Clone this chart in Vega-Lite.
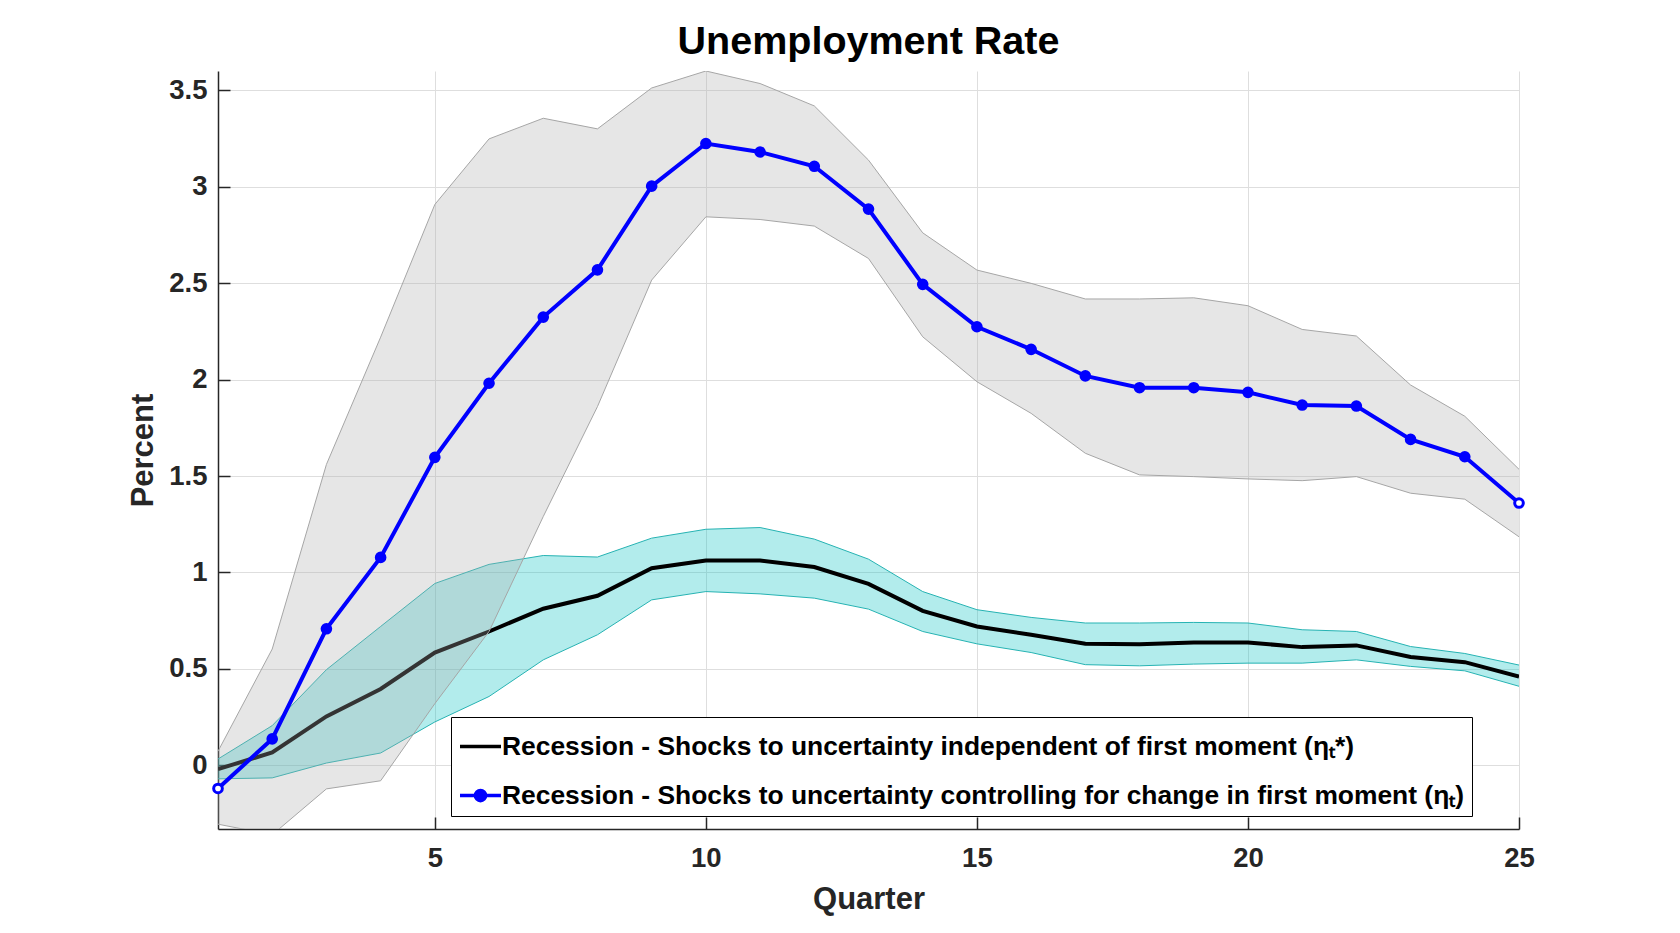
{
  "$schema": "https://vega.github.io/schema/vega-lite/v6.json",
  "width": 1301,
  "height": 758,
  "autosize": {"type": "none"},
  "padding": {"left": 218, "top": 71, "right": 161, "bottom": 104},
  "background": "white",
  "title": {
    "text": "Unemployment Rate",
    "font": "Liberation Sans",
    "fontSize": 39.5,
    "fontWeight": "bold",
    "color": "#000000",
    "anchor": "middle",
    "baseline": "alphabetic",
    "offset": 16,
    "dy": 38
  },
  "data": {
    "values": [
      {"q": 1, "blue": -0.12, "blue_lo": -0.305, "blue_hi": 0.073, "black": -0.02, "black_lo": -0.07, "black_hi": 0.033},
      {"q": 2, "blue": 0.137, "blue_lo": -0.36, "blue_hi": 0.603, "black": 0.067, "black_lo": -0.065, "black_hi": 0.206},
      {"q": 3, "blue": 0.708, "blue_lo": -0.122, "blue_hi": 1.56, "black": 0.254, "black_lo": 0.012, "black_hi": 0.496},
      {"q": 4, "blue": 1.078, "blue_lo": -0.08, "blue_hi": 2.22, "black": 0.396, "black_lo": 0.064, "black_hi": 0.72},
      {"q": 5, "blue": 1.597, "blue_lo": 0.32, "blue_hi": 2.908, "black": 0.585, "black_lo": 0.225, "black_hi": 0.943},
      {"q": 6, "blue": 1.981, "blue_lo": 0.694, "blue_hi": 3.248, "black": 0.694, "black_lo": 0.357, "black_hi": 1.042},
      {"q": 7, "blue": 2.324, "blue_lo": 1.29, "blue_hi": 3.355, "black": 0.812, "black_lo": 0.547, "black_hi": 1.088},
      {"q": 8, "blue": 2.569, "blue_lo": 1.86, "blue_hi": 3.30, "black": 0.879, "black_lo": 0.677, "black_hi": 1.08},
      {"q": 9, "blue": 3.003, "blue_lo": 2.516, "blue_hi": 3.512, "black": 1.022, "black_lo": 0.858, "black_hi": 1.178},
      {"q": 10, "blue": 3.224, "blue_lo": 2.844, "blue_hi": 3.60, "black": 1.062, "black_lo": 0.901, "black_hi": 1.224},
      {"q": 11, "blue": 3.18, "blue_lo": 2.83, "blue_hi": 3.535, "black": 1.062, "black_lo": 0.889, "black_hi": 1.233},
      {"q": 12, "blue": 3.106, "blue_lo": 2.796, "blue_hi": 3.419, "black": 1.028, "black_lo": 0.867, "black_hi": 1.173},
      {"q": 13, "blue": 2.884, "blue_lo": 2.628, "blue_hi": 3.138, "black": 0.941, "black_lo": 0.81, "black_hi": 1.069},
      {"q": 14, "blue": 2.494, "blue_lo": 2.222, "blue_hi": 2.761, "black": 0.801, "black_lo": 0.694, "black_hi": 0.901},
      {"q": 15, "blue": 2.274, "blue_lo": 1.989, "blue_hi": 2.568, "black": 0.72, "black_lo": 0.63, "black_hi": 0.807},
      {"q": 16, "blue": 2.157, "blue_lo": 1.825, "blue_hi": 2.499, "black": 0.677, "black_lo": 0.585, "black_hi": 0.767},
      {"q": 17, "blue": 2.019, "blue_lo": 1.618, "blue_hi": 2.418, "black": 0.63, "black_lo": 0.522, "black_hi": 0.738},
      {"q": 18, "blue": 1.958, "blue_lo": 1.506, "blue_hi": 2.418, "black": 0.628, "black_lo": 0.516, "black_hi": 0.738},
      {"q": 19, "blue": 1.958, "blue_lo": 1.497, "blue_hi": 2.424, "black": 0.637, "black_lo": 0.525, "black_hi": 0.741},
      {"q": 20, "blue": 1.934, "blue_lo": 1.485, "blue_hi": 2.383, "black": 0.637, "black_lo": 0.53, "black_hi": 0.738},
      {"q": 21, "blue": 1.868, "blue_lo": 1.476, "blue_hi": 2.26, "black": 0.613, "black_lo": 0.53, "black_hi": 0.703},
      {"q": 22, "blue": 1.863, "blue_lo": 1.497, "blue_hi": 2.226, "black": 0.622, "black_lo": 0.547, "black_hi": 0.694},
      {"q": 23, "blue": 1.69, "blue_lo": 1.411, "blue_hi": 1.972, "black": 0.562, "black_lo": 0.513, "black_hi": 0.616},
      {"q": 24, "blue": 1.60, "blue_lo": 1.38, "blue_hi": 1.81, "black": 0.535, "black_lo": 0.49, "black_hi": 0.58},
      {"q": 25, "blue": 1.36, "blue_lo": 1.185, "blue_hi": 1.535, "black": 0.46, "black_lo": 0.41, "black_hi": 0.52}
    ]
  },
  "encoding": {
    "x": {
      "field": "q",
      "type": "quantitative",
      "title": "Quarter",
      "scale": {"domain": [1, 25], "nice": false, "zero": false},
      "axis": {
        "values": [5, 10, 15, 20, 25],
        "labelPadding": 27,
        "titlePadding": 13,
        "labelFlush": false
      }
    }
  },
  "layer": [
    {
      "mark": {"type": "area", "color": "#00c0c0", "fillOpacity": 0.3, "clip": true},
      "encoding": {
        "y": {
          "field": "black_lo",
          "type": "quantitative",
          "title": "Percent",
          "scale": {"domain": [-0.33, 3.6], "nice": false, "zero": false},
          "axis": {
            "values": [0, 0.5, 1, 1.5, 2, 2.5, 3, 3.5],
            "format": ".2~f",
            "labelPadding": 23,
            "titlePadding": 9,
            "labelFlush": false
          }
        },
        "y2": {"field": "black_hi"}
      }
    },
    {
      "transform": [{"fold": ["black_lo", "black_hi"], "as": ["band", "v"]}],
      "mark": {"type": "line", "color": "#26b3b3", "strokeWidth": 1, "clip": true},
      "encoding": {
        "y": {"field": "v", "type": "quantitative", "title": "Percent"},
        "detail": {"field": "band"}
      }
    },
    {
      "mark": {"type": "line", "strokeWidth": 4, "clip": true},
      "encoding": {
        "y": {"field": "black", "type": "quantitative", "title": "Percent"},
        "color": {
          "datum": "Recession - Shocks to uncertainty independent of first moment (ηₜ*)",
          "type": "nominal",
          "scale": {
            "domain": [
              "Recession - Shocks to uncertainty independent of first moment (ηₜ*)",
              "Recession - Shocks to uncertainty controlling for change in first moment (ηₜ)"
            ],
            "range": ["#000000", "#0000ff"]
          },
          "legend": {
            "title": null,
            "orient": "none",
            "direction": "vertical",
            "legendX": 233,
            "legendY": 646,
            "padding": 7,
            "fillColor": "#ffffff",
            "strokeColor": "#000000",
            "cornerRadius": 0,
            "symbolType": "stroke",
            "symbolSize": 1681,
            "symbolStrokeWidth": 3.5,
            "rowPadding": 13,
            "labelOffset": -1,
            "labelFont": "Liberation Sans",
            "labelFontSize": 26.4,
            "labelFontWeight": "bold",
            "labelColor": "#000000",
            "labelLimit": 2000,
            "encode": {
              "symbols": {
                "update": {
                  "shape": {"signal": "indexof(datum.label, 'controlling') >= 0 ? 'M-1,0L1,0M0.25,0A0.25,0.25,0,1,1,-0.25,0A0.25,0.25,0,1,1,0.25,0Z' : 'stroke'"},
                  "fill": {"signal": "indexof(datum.label, 'controlling') >= 0 ? '#0000ff' : 'transparent'"}
                }
              }
            }
          }
        }
      }
    },
    {
      "mark": {"type": "area", "color": "#ababab", "fillOpacity": 0.3, "clip": true},
      "encoding": {
        "y": {"field": "blue_lo", "type": "quantitative", "title": "Percent"},
        "y2": {"field": "blue_hi"}
      }
    },
    {
      "transform": [{"fold": ["blue_lo", "blue_hi"], "as": ["band", "v"]}],
      "mark": {"type": "line", "color": "#a6a6a6", "strokeWidth": 1, "clip": true},
      "encoding": {
        "y": {"field": "v", "type": "quantitative", "title": "Percent"},
        "detail": {"field": "band"}
      }
    },
    {
      "mark": {"type": "rule", "color": "#ff0000", "strokeWidth": 3.3},
      "encoding": {"y": {"datum": 0}}
    },
    {
      "mark": {"type": "line", "strokeWidth": 4, "clip": true},
      "encoding": {
        "y": {"field": "blue", "type": "quantitative", "title": "Percent"},
        "color": {
          "datum": "Recession - Shocks to uncertainty controlling for change in first moment (ηₜ)",
          "type": "nominal"
        }
      }
    },
    {
      "transform": [{"filter": "datum.q > 1 && datum.q < 25"}],
      "mark": {"type": "point", "shape": "circle", "filled": true, "color": "#0000ff", "size": 135, "opacity": 1},
      "encoding": {
        "y": {"field": "blue", "type": "quantitative", "title": "Percent"}
      }
    },
    {
      "transform": [{"filter": "datum.q == 1 || datum.q == 25"}],
      "mark": {"type": "point", "shape": "circle", "fill": "#ffffff", "stroke": "#0000ff", "strokeWidth": 3, "size": 75, "opacity": 1, "fillOpacity": 1},
      "encoding": {
        "y": {"field": "blue", "type": "quantitative", "title": "Percent"}
      }
    }
  ],
  "config": {
    "view": {"stroke": null},
    "font": "Liberation Sans",
    "axis": {
      "labelFont": "Liberation Sans",
      "labelFontSize": 27.5,
      "labelFontWeight": "bold",
      "labelColor": "#262626",
      "titleFont": "Liberation Sans",
      "titleFontSize": 31,
      "titleFontWeight": "bold",
      "titleColor": "#262626",
      "domainColor": "#262626",
      "domainWidth": 1.5,
      "tickColor": "#262626",
      "tickWidth": 1.5,
      "tickSize": -12,
      "grid": true,
      "gridColor": "#dedede",
      "gridWidth": 1
    }
  }
}
